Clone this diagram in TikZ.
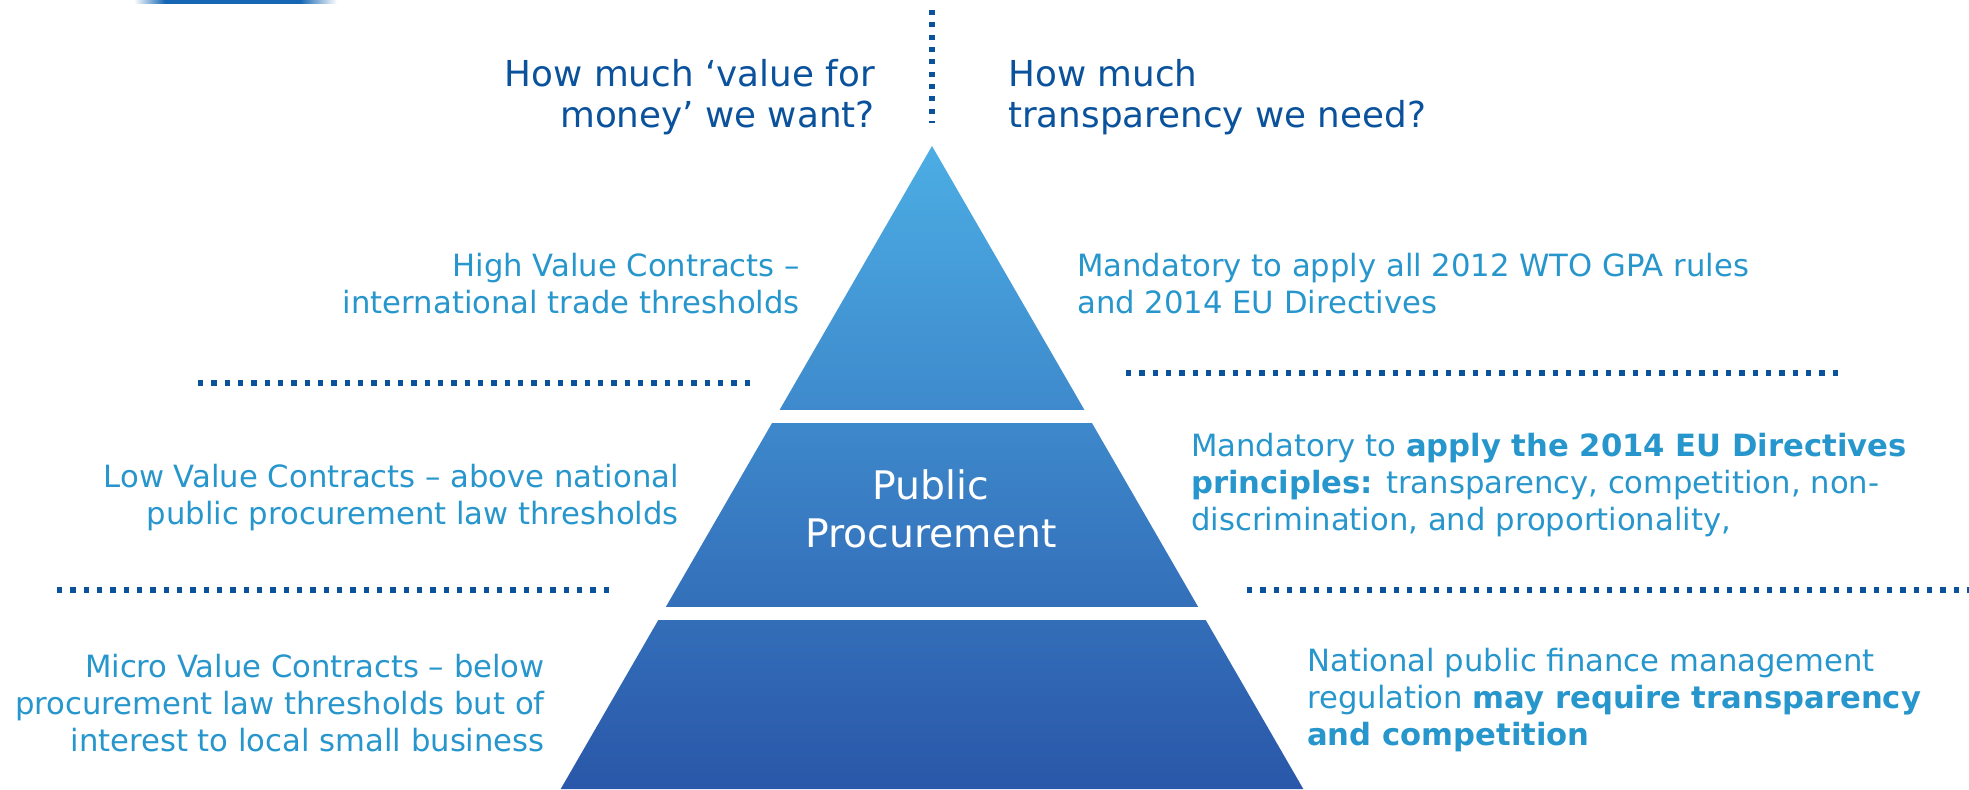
\documentclass[tikz,border=0pt]{standalone}
\usepackage{fontspec}
\setmainfont{DejaVu Sans}
\definecolor{darkblue}{HTML}{0A529C}
\definecolor{cyanblue}{HTML}{2796CC}
\definecolor{pyrtop}{HTML}{4CADE4}
\definecolor{pyrmid}{HTML}{3C85CA}
\definecolor{pyrbot}{HTML}{2A57A9}
\definecolor{lineblue}{HTML}{1566B5}
\begin{document}
\begin{tikzpicture}[x=0.75pt,y=-0.75pt,
  cyantext/.style={inner sep=0pt, text=cyanblue, font=\fontsize{23}{27.5}\selectfont},
  question/.style={inner sep=0pt, text=darkblue, font=\fontsize{26.8}{30.75}\selectfont},
  titletext/.style={inner sep=0pt, text=white, font=\fontsize{29.5}{36}\selectfont, align=center},
  dotline/.style={draw=darkblue, line width=4.5pt, dash pattern=on 4.1pt off 5.9pt},
  vdotline/.style={draw=darkblue, line width=5.2pt, dash pattern=on 3.75pt off 5.5pt},
]
\useasboundingbox (0,0) rectangle (1969,789);

% thin line at top left
\path[left color=white, right color=lineblue] (134,0) rectangle (165,3.5);
\fill[lineblue] (165,0) rectangle (300,3.5);
\path[left color=lineblue, right color=white] (300,0) rectangle (337,3.5);

% pyramid
\path[top color=pyrtop, middle color=pyrmid, bottom color=pyrbot]
  (932,146) -- (1303.3,789) -- (560.7,789) -- cycle;
\fill[white] (762,410) rectangle (1102,423);
\fill[white] (648,607) rectangle (1216,620);

% dotted separators
\draw[vdotline] (932,10) -- (932,123);
\draw[dotline] (198,383) -- (757,383);
\draw[dotline] (1126,373) -- (1843,373);
\draw[dotline] (57,590) -- (614,590);
\draw[dotline] (1247,590) -- (1969,590);

% questions
\node[question, anchor=north east, align=right] (qvalue) at (875,58)
  {\strut How much ‘value for\\money’ we want?};
\node[question, anchor=north west, align=left] (qtransp) at (1008,58)
  {\strut How much\\transparency we need?};

% title
\node[titletext, anchor=north] (title) at (931,466) {\strut Public\\Procurement};

% left side
\node[cyantext, anchor=north east, align=right] (high) at (800,251)
  {\strut High Value Contracts –\\international trade thresholds};
\node[cyantext, anchor=north east, align=right] (low) at (679,462)
  {\strut Low Value Contracts – above national\\public procurement law thresholds};
\node[cyantext, anchor=north east, align=right] (micro) at (545,652)
  {\strut Micro Value Contracts – below\\procurement law thresholds but of\\interest to local small business};

% right side
\node[cyantext, anchor=north west, align=left] (wto) at (1077,251)
  {\strut Mandatory to apply all 2012 WTO GPA rules\\and 2014 EU Directives};
\node[cyantext, anchor=north west, align=left] (eu) at (1191,431)
  {\strut Mandatory to \textbf{apply the 2014 EU Directives}\\\textbf{principles:} transparency, competition, non-\\discrimination, and proportionality,};
\node[cyantext, anchor=north west, align=left] (nat) at (1307,646)
  {\strut National public finance management\\regulation \textbf{may require transparency}\\\textbf{and competition}};
\end{tikzpicture}
\end{document}
